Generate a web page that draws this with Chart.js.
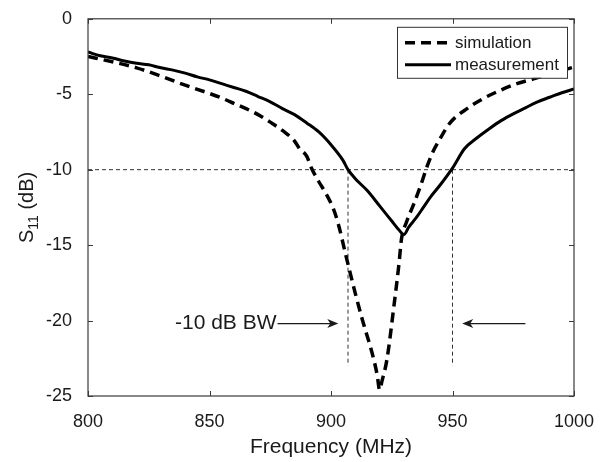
<!DOCTYPE html>
<html>
<head>
<meta charset="utf-8">
<script src="https://cdn.jsdelivr.net/npm/chart.js@4.4.1/dist/chart.umd.min.js"></script>
<style>
  body { margin: 0; background: #fff; }
  canvas { display: block; }
</style>
</head>
<body>
<canvas id="s11Chart" width="603" height="462"></canvas>
<script>
// S11 readings (dB) against frequency (MHz)
const simFreq = [800, 810, 820, 830, 840, 850, 855, 860, 867, 870, 875, 880, 885, 887, 890, 892, 895, 898, 901, 903, 906, 910, 913, 917, 919, 920,
                 921, 923, 926, 928, 929, 931, 934, 937, 939.5, 942, 944, 949, 956, 962.5, 969.5, 976.5, 983, 990, 1000];
const simS11 = [-2.5, -2.85, -3.25, -3.8, -4.4, -4.95, -5.25, -5.6, -6.1, -6.35, -6.85, -7.4, -8.1, -8.6, -9.1, -9.9, -10.8, -11.6, -12.6, -13.6, -15.6, -18.2, -20.0, -22.2, -23.6, -24.6,
                -24.0, -22.6, -18.9, -16.2, -14.6, -13.5, -12.3, -11.0, -9.8, -8.8, -8.2, -6.9, -5.95, -5.3, -4.75, -4.3, -4.0, -3.65, -3.2];

const measFreq = [800, 805, 810, 815, 820, 825, 830, 835, 840, 845, 850, 855, 860, 865, 870, 875, 880, 885, 890, 895, 900, 905, 907, 910, 915, 920, 925, 928, 930,
                  932, 935, 938, 941, 945, 950, 955, 960, 965, 970, 975, 980, 985, 990, 995, 1000];
const measS11 = [-2.2, -2.45, -2.6, -2.8, -2.95, -3.05, -3.25, -3.4, -3.6, -3.85, -4.05, -4.3, -4.55, -4.8, -5.15, -5.5, -5.95, -6.35, -6.9, -7.5, -8.35, -9.4, -10.0, -10.6, -11.4, -12.4, -13.4, -14.0, -14.3,
                 -13.8, -13.2, -12.5, -11.8, -11.0, -9.9, -8.6, -7.9, -7.3, -6.75, -6.3, -5.9, -5.5, -5.2, -4.9, -4.65];

const xTicks = [800, 850, 900, 950, 1000];
const yTicks = [0, -5, -10, -15, -20, -25];

// -10 dB bandwidth markers
const refLevel = -10;
const bwEdges = [907, 950];
const bwFloor = -23;
const arrowLevel = -20.2;
const leftArrow = [878, 903];   // tail, tip
const rightArrow = [980, 954];
const bwLabel = '-10 dB BW';

const fontFamily = '"Liberation Sans", Arial, Helvetica, sans-serif';
const ink = '#1a1a1a';

function toPoints(xs, ys) {
    return xs.map((x, i) => ({ x: x, y: ys[i] }));
}

const refStyle = {
    borderColor: '#333',
    borderWidth: 1,
    borderDash: [4, 3],
    pointRadius: 0,
    fill: false
};

const decorPlugin = {
    id: 'decor',
    afterDraw(chart) {
        const ctx = chart.ctx;
        const area = chart.chartArea;
        const xs = chart.scales.x;
        const ys = chart.scales.y;

        // arrows and label
        ctx.save();
        ctx.strokeStyle = ink;
        ctx.fillStyle = ink;
        ctx.lineWidth = 1.2;
        const ay = ys.getPixelForValue(arrowLevel);
        [leftArrow, rightArrow].forEach(a => {
            const tail = xs.getPixelForValue(a[0]);
            const tip = xs.getPixelForValue(a[1]);
            const dir = tip > tail ? 1 : -1;
            ctx.beginPath();
            ctx.moveTo(tail, ay);
            ctx.lineTo(tip - dir * 4, ay);
            ctx.stroke();
            ctx.beginPath();
            ctx.moveTo(tip, ay);
            ctx.lineTo(tip - dir * 11, ay - 4.5);
            ctx.lineTo(tip - dir * 8, ay);
            ctx.lineTo(tip - dir * 11, ay + 4.5);
            ctx.closePath();
            ctx.fill();
        });
        ctx.font = '21px ' + fontFamily;
        ctx.textAlign = 'right';
        ctx.textBaseline = 'middle';
        ctx.fillText(bwLabel, xs.getPixelForValue(leftArrow[0]) - 1, ay);
        ctx.restore();

        // legend box
        ctx.save();
        const bw = 170, bh = 51;
        const bx = area.right - 7 - bw, by = area.top + 8;
        ctx.fillStyle = '#fff';
        ctx.fillRect(bx, by, bw, bh);
        ctx.strokeStyle = '#333';
        ctx.lineWidth = 1;
        ctx.strokeRect(bx + 0.5, by + 0.5, bw, bh);
        ctx.font = '17px ' + fontFamily;
        ctx.textAlign = 'left';
        ctx.textBaseline = 'middle';
        chart.data.datasets.slice(0, 2).forEach((ds, i) => {
            const ly = by + 16 + i * 22;
            ctx.strokeStyle = '#000';
            ctx.lineWidth = ds.borderWidth;
            ctx.setLineDash(ds.borderDash || []);
            ctx.beginPath();
            ctx.moveTo(bx + 8, ly);
            ctx.lineTo(bx + 54, ly);
            ctx.stroke();
            ctx.setLineDash([]);
            ctx.fillStyle = ink;
            ctx.fillText(ds.label, bx + 58, ly + 1);
        });
        ctx.restore();

        // frame with inward ticks on all sides
        ctx.save();
        ctx.strokeStyle = '#3a3a3a';
        ctx.lineWidth = 1.2;
        ctx.strokeRect(area.left, area.top, area.right - area.left, area.bottom - area.top);
        ctx.lineWidth = 1;
        ctx.beginPath();
        xTicks.forEach(v => {
            const px = Math.round(xs.getPixelForValue(v)) + 0.5;
            ctx.moveTo(px, area.bottom); ctx.lineTo(px, area.bottom - 5);
            ctx.moveTo(px, area.top); ctx.lineTo(px, area.top + 5);
        });
        yTicks.forEach(v => {
            const py = Math.round(ys.getPixelForValue(v)) + 0.5;
            ctx.moveTo(area.left, py); ctx.lineTo(area.left + 5, py);
            ctx.moveTo(area.right, py); ctx.lineTo(area.right - 5, py);
        });
        ctx.stroke();
        ctx.restore();

        // y title: S11 (dB) with subscript
        ctx.save();
        const cy = (area.top + area.bottom) / 2;
        ctx.translate(33, cy);
        ctx.rotate(-Math.PI / 2);
        ctx.fillStyle = ink;
        ctx.textBaseline = 'alphabetic';
        ctx.textAlign = 'left';
        const big = '20px ' + fontFamily, small = '14px ' + fontFamily;
        ctx.font = big;
        const wS = ctx.measureText('S').width;
        const wRest = ctx.measureText(' (dB)').width;
        ctx.font = small;
        const wSub = ctx.measureText('11').width;
        let tx = -(wS + wSub + wRest) / 2;
        ctx.font = big;
        ctx.fillText('S', tx, 0);
        tx += wS;
        ctx.font = small;
        ctx.fillText('11', tx, 5);
        tx += wSub;
        ctx.font = big;
        ctx.fillText(' (dB)', tx, 0);
        ctx.restore();
    }
};

new Chart(document.getElementById('s11Chart').getContext('2d'), {
    type: 'line',
    data: {
        datasets: [
            {
                label: 'simulation',
                data: toPoints(simFreq, simS11),
                borderColor: '#000',
                borderWidth: 3.5,
                borderDash: [10, 6],
                pointRadius: 0,
                cubicInterpolationMode: 'monotone',
                fill: false
            },
            {
                label: 'measurement',
                data: toPoints(measFreq, measS11),
                borderColor: '#000',
                borderWidth: 3,
                pointRadius: 0,
                cubicInterpolationMode: 'monotone',
                fill: false
            },
            Object.assign({ label: 'ref', data: toPoints([800, 1000], [refLevel, refLevel]) }, refStyle),
            Object.assign({ label: 'bwLow', data: toPoints([bwEdges[0], bwEdges[0]], [refLevel, bwFloor]) }, refStyle),
            Object.assign({ label: 'bwHigh', data: toPoints([bwEdges[1], bwEdges[1]], [refLevel, bwFloor]) }, refStyle)
        ]
    },
    options: {
        responsive: false,
        devicePixelRatio: 1,
        animation: false,
        events: [],
        layout: { padding: { top: 14, right: 29, left: 0, bottom: 0 } },
        plugins: {
            legend: { display: false },
            tooltip: { enabled: false }
        },
        scales: {
            x: {
                type: 'linear',
                min: 800,
                max: 1000,
                afterBuildTicks: s => { s.ticks = xTicks.map(v => ({ value: v })); },
                afterFit: s => { s.height = 66; },
                grid: { display: false },
                border: { display: false },
                ticks: {
                    color: ink,
                    font: { family: fontFamily, size: 18 },
                    padding: 7,
                    maxRotation: 0,
                    callback: v => String(v)
                },
                title: {
                    display: true,
                    text: 'Frequency (MHz)',
                    color: ink,
                    font: { family: fontFamily, size: 21 },
                    padding: { top: 0, bottom: 2 }
                }
            },
            y: {
                type: 'linear',
                min: -25,
                max: 0,
                afterBuildTicks: s => { s.ticks = yTicks.map(v => ({ value: v })); },
                afterFit: s => { s.width = 88; },
                grid: { display: false },
                border: { display: false },
                ticks: {
                    color: ink,
                    font: { family: fontFamily, size: 18 },
                    padding: 8,
                    callback: v => String(v)
                }
            }
        }
    },
    plugins: [decorPlugin]
});
</script>
</body>
</html>
